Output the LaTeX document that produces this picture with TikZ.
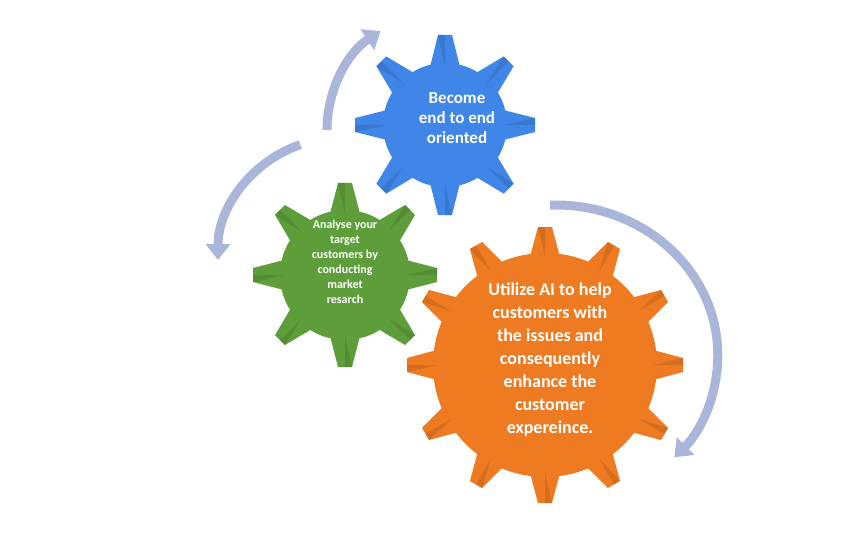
\documentclass[tikz,border=0pt]{standalone}
\usepackage{fontspec}
\setmainfont{Carlito}
\usetikzlibrary{arrows.meta}
\definecolor{gearblue}{HTML}{3F86E8}
\definecolor{geargreen}{HTML}{5E9E3A}
\definecolor{gearorange}{HTML}{EE7A22}
\definecolor{cyclearrow}{HTML}{AAB6D9}
% #1 centre, #2 inner radius, #3 outer radius, #4 teeth, #5 colour, #6 offset angle
\newcommand\drawgear[6]{%
  \fill[#5] (#1) circle (#2);
  \foreach \k in {1,...,#4}{
    \begin{scope}[shift={(#1)},rotate=#6+\k*360/#4]
      \fill[#5] (#2-4,-15) -- (#3,-7) -- (#3,7) -- (#2-4,15) -- cycle;
      \fill[#5!70!black,opacity=.35] (#2-4,0) -- (#3,-7) -- (#3,0) -- cycle;
    \end{scope}}}
\tikzset{
  cycle arrow/.style={cyclearrow, line width=9pt, -{Triangle[length=16pt,width=24pt]}},
  gear text/.style={white, align=center, font=\bfseries}
}
\begin{document}
\begin{tikzpicture}[x=1pt,y=-1pt]
\useasboundingbox (0,0) rectangle (864,556);

\drawgear{445,125}{62}{90}{8}{gearblue}{0}
\drawgear{345,275}{65}{92}{8}{geargreen}{-90}
\drawgear{545,365}{112}{138}{12}{gearorange}{-90}

\node[gear text, font=\fontsize{17}{20}\selectfont\bfseries] (blue) at (457,118) {Become\\end to end\\oriented};
\node[gear text, font=\fontsize{12}{15}\selectfont\bfseries] (green) at (345,262) {Analyse your\\target\\customers by\\conducting\\market\\resarch};
\node[gear text, font=\fontsize{18}{23}\selectfont\bfseries] (orange) at (550,360) {Utilize AI to help\\customers with\\the issues and\\consequently\\enhance the\\customer\\expereince.};

\draw[cycle arrow] (445,130) ++(180:118) arc[start angle=180, end angle=237, radius=118];
\draw[cycle arrow] (340,260) ++(251:122) arc[start angle=251, end angle=180, radius=122];
\draw[cycle arrow] (555,345) ++(-92:140) arc[start angle=-92, end angle=43, x radius=162, y radius=150];
\end{tikzpicture}
\end{document}
